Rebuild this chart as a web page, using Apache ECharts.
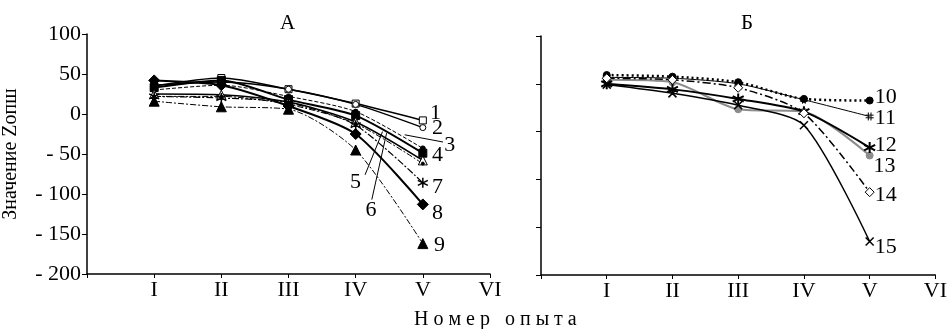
<!DOCTYPE html>
<html>
<head>
<meta charset="utf-8">
<script src="https://cdn.jsdelivr.net/npm/echarts@6/dist/echarts.min.js"></script>
<style>
  html, body { margin: 0; padding: 0; background: #fff; }
  #chart { width: 950px; height: 329px; }
</style>
</head>
<body>
<div id="chart"></div>
<script>
// номера опытов
const steps = [1, 2, 3, 4, 5];
const romanLabels = ['', 'I', 'II', 'III', 'IV', 'V', 'VI'];

// панель А
const a1 = [35, 45, 31, 13, -8];
const a2 = [36, 40, 31, 12, -17];
const a3 = [30, 36, 22, 3, -43];
const a4 = [33, 42, 18, -2, -49];
const a5 = [25, 24, 15, -10, -58];
const a6 = [22, 22, 12, -12, -62];
const a7 = [22, 20, 14, -14, -86];
const a8 = [42, 36, 10, -25, -113];
const a9 = [16, 9, 6, -45, -162];

// панель Б
const b10 = [51, 49, 42, 21, 19];
const b11 = [48, 47, 40, 20, -1];
const b12 = [40, 33, 21, 5, -40];
const b13 = [45, 42, 8, 5, -50];
const b14 = [47, 45, 35, 3, -96];
const b15 = [39, 28, 13, -12, -158];

// подписи кривых (x, y в единицах осей)
const labelsA = [['1', 5.10, 1], ['2', 5.13, -18], ['3', 5.31, -39], ['4', 5.13, -52],
                 ['5', 3.91, -85], ['6', 4.14, -120], ['7', 5.13, -92], ['8', 5.13, -124], ['9', 5.16, -164]];
const labelsB = [['10', 5.07, 23], ['11', 5.07, -3], ['12', 5.07, -37], ['13', 5.05, -63],
                 ['14', 5.07, -100], ['15', 5.07, -165]];
// выноски для 3, 5, 6
const leaders = [[[4.73, -26], [5.30, -35]], [[4.14, -76], [4.40, -22]], [[4.24, -107], [4.46, -24]]];

const FONT = 'Liberation Serif';
const star = 'path://M0,-5 L0,5 M-4.3,-2.5 L4.3,2.5 M-4.3,2.5 L4.3,-2.5';
const cross = 'path://M-1,-1 L1,1 M-1,1 L1,-1';
const hash = 'path://M-1,-3 L-1,3 M1,-3 L1,3 M-3,-1 L3,-1 M-3,1 L3,1';

function pts(arr) {
    return arr.map((v, i) => [steps[i], v]);
}

function line(idx, arr, opt) {
    return {
        type: 'line',
        xAxisIndex: idx,
        yAxisIndex: idx,
        data: pts(arr),
        smooth: 0.25,
        symbol: opt.symbol,
        symbolSize: opt.size || 7,
        lineStyle: { color: opt.color || '#000', width: opt.width || 1.5, type: opt.dash || 'solid' },
        itemStyle: {
            color: opt.fill || opt.color || '#000',
            borderColor: opt.color || '#000',
            borderWidth: opt.bw || 1
        },
        z: opt.z || 3
    };
}

function labelSeries(idx, list) {
    return {
        type: 'scatter',
        xAxisIndex: idx,
        yAxisIndex: idx,
        silent: true,
        symbolSize: 1,
        itemStyle: { color: 'rgba(255,255,255,0)' },
        data: list.map(l => [l[1], l[2], l[0]]),
        label: {
            show: true,
            position: 'right',
            distance: 0,
            formatter: p => p.value[2],
            color: '#000',
            opacity: 1,
            fontFamily: FONT,
            fontSize: 22
        },
        markLine: idx === 0 ? {
            silent: true,
            symbol: 'none',
            label: { show: false },
            lineStyle: { color: '#000', width: 1, type: 'solid' },
            data: leaders.map(l => [{ coord: l[0] }, { coord: l[1] }])
        } : undefined
    };
}

function xAxis(idx) {
    return {
        type: 'value',
        gridIndex: idx,
        min: 0,
        max: 6,
        interval: 1,
        splitLine: { show: false },
        axisLine: { onZero: false, lineStyle: { color: '#000', width: 1.5 } },
        axisTick: { length: 4, lineStyle: { color: '#000' } },
        axisLabel: {
            formatter: v => romanLabels[v],
            color: '#000',
            fontFamily: FONT,
            fontSize: 22,
            margin: 5
        }
    };
}

const chart = echarts.init(document.getElementById('chart'));
chart.setOption({
    animation: false,
    backgroundColor: '#fff',
    title: [
        { text: 'А', left: 275, top: 8, textStyle: { fontFamily: FONT, fontSize: 21, fontWeight: 'normal', color: '#000' } },
        { text: 'Б', left: 736, top: 8, textStyle: { fontFamily: FONT, fontSize: 21, fontWeight: 'normal', color: '#000' } },
        { text: 'Н о м е р   о п ы т а', left: 409, top: 305, textStyle: { fontFamily: FONT, fontSize: 20, fontWeight: 'normal', color: '#000' } }
    ],
    grid: [
        { left: 87, top: 34, width: 403, height: 240 },
        { left: 541, top: 36, width: 399, height: 239 }
    ],
    xAxis: [xAxis(0), xAxis(1)],
    yAxis: [
        {
            type: 'value',
            gridIndex: 0,
            min: -200,
            max: 100,
            interval: 50,
            name: 'Значение Zопш',
            nameLocation: 'middle',
            nameGap: 66,
            nameTextStyle: { fontFamily: FONT, fontSize: 20, color: '#000' },
            splitLine: { show: false },
            axisLine: { lineStyle: { color: '#000', width: 1.5 } },
            axisTick: { length: 5, lineStyle: { color: '#000' } },
            axisLabel: {
                formatter: v => (v < 0 ? '- ' + Math.abs(v) : '' + v),
                color: '#000',
                fontFamily: FONT,
                fontSize: 22,
                margin: 6
            }
        },
        {
            type: 'value',
            gridIndex: 1,
            min: -200,
            max: 100,
            interval: 60,
            splitLine: { show: false },
            axisLine: { lineStyle: { color: '#000', width: 1.5 } },
            axisTick: { length: 5, lineStyle: { color: '#000' } },
            axisLabel: { show: false }
        }
    ],
    series: [
        line(0, a1, { symbol: 'rect', fill: '#fff', size: 7 }),
        line(0, a2, { symbol: 'circle', fill: '#fff', size: 6 }),
        line(0, a3, { symbol: 'circle', size: 5, width: 1, dash: [4, 2] }),
        line(0, a4, { symbol: 'rect', size: 8, width: 2 }),
        line(0, a5, { symbol: 'triangle', fill: '#fff', size: 9 }),
        line(0, a6, { symbol: 'circle', size: 3, width: 1, dash: [6, 2, 2, 2] }),
        line(0, a7, { symbol: star, size: 10, width: 1.2, dash: [7, 2, 2, 2], bw: 1.5 }),
        line(0, a8, { symbol: 'diamond', size: 11, width: 2 }),
        line(0, a9, { symbol: 'triangle', size: 10, width: 1, dash: [6, 2, 2, 2] }),
        line(1, b10, { symbol: 'circle', size: 7, width: 2.5, dash: [2, 3] }),
        line(1, b11, { symbol: hash, size: 8, width: 1, bw: 1 }),
        line(1, b12, { symbol: star, size: 11, width: 2, bw: 2 }),
        line(1, b13, { symbol: 'circle', size: 7, width: 2, color: '#8c8c8c', z: 2 }),
        line(1, b14, { symbol: 'diamond', fill: '#fff', size: 9, width: 1.5, dash: [8, 3, 2, 3] }),
        line(1, b15, { symbol: cross, size: 8, width: 1.5, bw: 1.5 }),
        labelSeries(0, labelsA),
        labelSeries(1, labelsB)
    ]
});
</script>
</body>
</html>
